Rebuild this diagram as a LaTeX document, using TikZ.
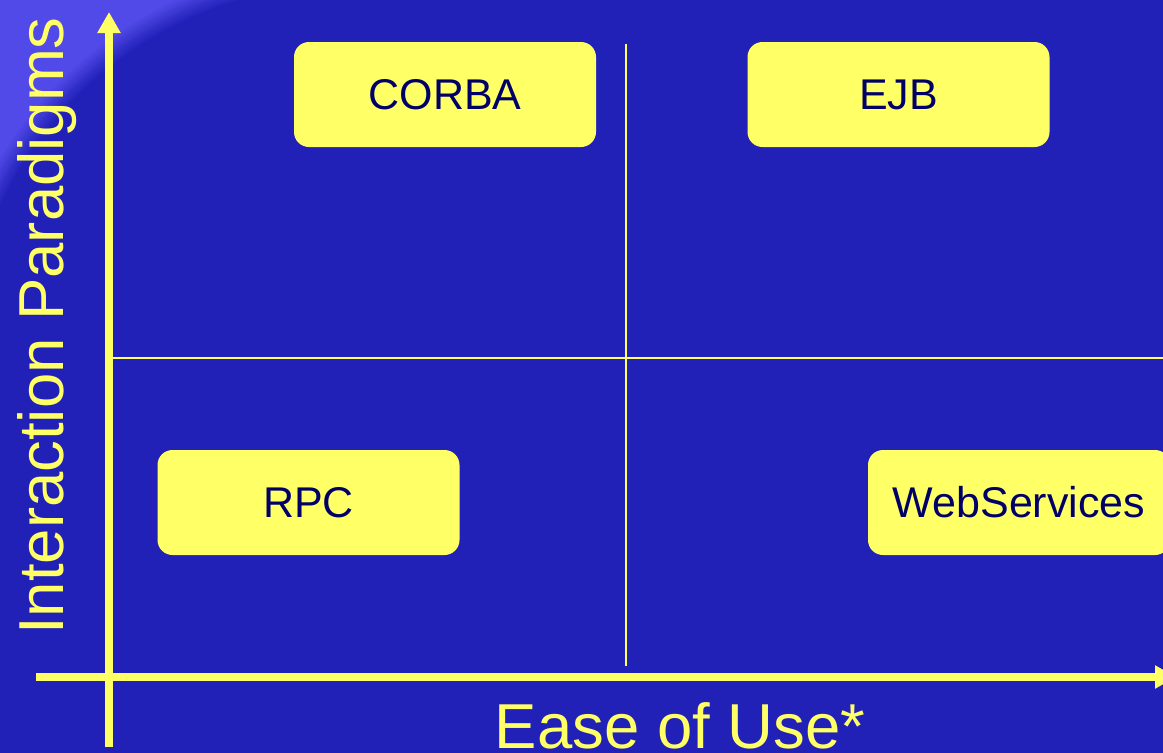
\documentclass[tikz,border=0pt]{standalone}
\usepackage{fontspec}
\setmainfont{Liberation Sans}
\usetikzlibrary{arrows.meta,calc}

\definecolor{bgblue}{RGB}{33,33,184}
\definecolor{glowblue}{RGB}{82,74,232}
\definecolor{hiyellow}{RGB}{255,255,102}
\definecolor{navy}{RGB}{0,0,102}

\tikzset{
  paradigm/.style={rectangle, rounded corners=15pt, fill=hiyellow,
    text=navy, minimum width=302pt, minimum height=105pt, inner sep=0pt,
    font=\fontsize{43}{50}\selectfont},
  axis/.style={draw=hiyellow, line width=7.5pt,
    -{Triangle[width=22pt,length=21pt]}},
  divider/.style={draw=hiyellow, line width=2.5pt},
  axislabel/.style={text=hiyellow, inner sep=0pt,
    font=\fontsize{63.5}{70}\selectfont},
}

\begin{document}
\begin{tikzpicture}[x=1pt, y=-1pt]
  \useasboundingbox (0,0) rectangle (1163,753);
  \clip (0,0) rectangle (1163,753);

  % background
  \fill[bgblue] (0,0) rectangle (1163,753);

  % lighter top-left corner beyond a wide arc, with a soft edge
  \coordinate (glowc) at (347,367);
  \fill[glowblue] (-10,-10) -- ($(glowc)+(-100:406)$)
    arc[start angle=-100, end angle=-160, radius=406] -- cycle;
  \foreach \i [evaluate=\i as \pct using int(100*\i/12)] in {0,1,...,12}
    \draw[glowblue!\pct!bgblue, line width=2.6pt]
      ($(glowc)+(-100:382+2*\i)$)
      arc[start angle=-100, end angle=-160, radius=382+2*\i];

  % quadrant dividers
  \coordinate (vtop) at (626,44);
  \coordinate (vbot) at (626,666);
  \coordinate (hleft) at (112,358);
  \coordinate (hright) at (1170,358);
  \draw[divider] (vtop) -- (vbot);
  \draw[divider] (hleft) -- (hright);

  % axes
  \coordinate (ybot) at (109,747);
  \coordinate (ytop) at (109,12);
  \coordinate (xleft) at (36,677);
  \coordinate (xright) at (1176,677);
  \draw[axis] (ybot) -- (ytop);
  \draw[axis] (xleft) -- (xright);

  % axis labels
  \node[axislabel, anchor=base] (easeofuse) at (680,748) {Ease of Use*};
  \node[axislabel, anchor=base, rotate=90] (paradigms) at (63,326)
    {Interaction Paradigms};

  % technologies
  \node[paradigm] (corba) at (445,94.5) {CORBA};
  \node[paradigm] (ejb) at (898.5,94.5) {EJB};
  \node[paradigm] (rpc) at (308.5,502.5) {RPC};
  \node[paradigm] (websvc) at (1019,502.5) {WebServices};
\end{tikzpicture}
\end{document}
